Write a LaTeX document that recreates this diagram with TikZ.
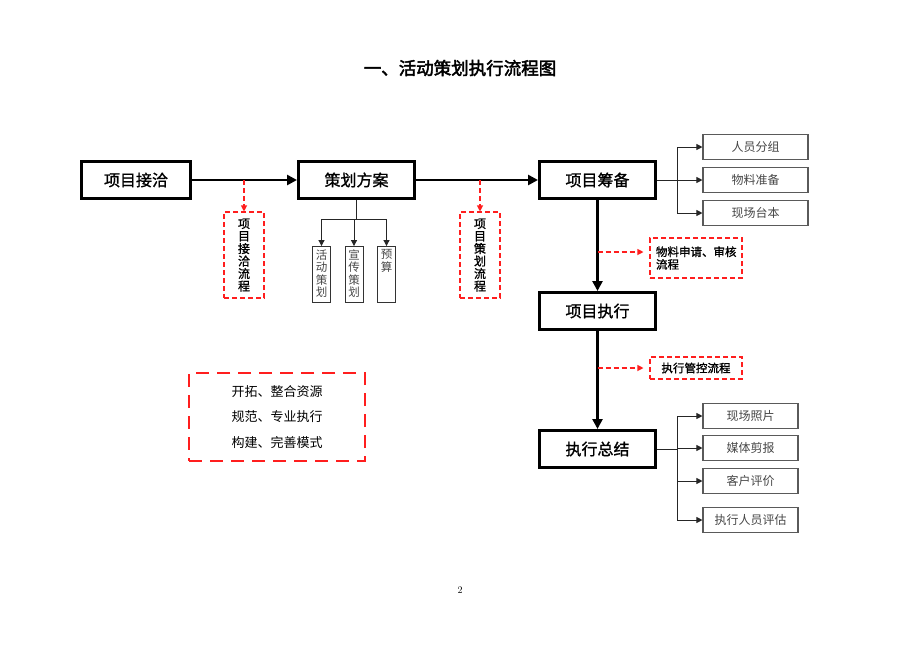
\documentclass[tikz,border=0pt]{standalone}
\usepackage{fontspec}
\usetikzlibrary{arrows.meta}
\newfontfamily\cjk{Noto Sans CJK SC}
\newfontfamily\cjkb{Noto Sans CJK SC}[FakeBold=1.2]
\newfontfamily\cjkbb{Noto Sans CJK SC}[FakeBold=2.5]
\definecolor{flowred}{RGB}{255, 30, 30}
\definecolor{boxgrey}{RGB}{90, 90, 90}
\definecolor{textgrey}{RGB}{70, 70, 70}
\newcommand{\vlabel}[1]{\parbox[c][50pt][t]{12pt}{\centering #1}}

\tikzset{
  mainbox/.style  ={draw=black, line width=3pt, minimum width=116pt, minimum height=37pt,
                    inner sep=0pt, font=\cjkb\fontsize{16}{18}\selectfont},
  mainflow/.style ={line width=2.6pt, -{Triangle[length=10pt,width=10pt]}},
  procbox/.style  ={draw=flowred, dash pattern=on 5pt off 3pt, line width=1.1pt, inner sep=0pt,
                    font=\cjkb\fontsize{11.5}{12.6}\selectfont},
  redflow/.style  ={draw=flowred, dash pattern=on 5pt off 3pt, line width=1.1pt,
                    -{Triangle[length=6pt,width=6pt,fill=flowred]}},
  subbox/.style   ={draw=black!80, line width=0.9pt, inner sep=3pt, text=textgrey,
                    font=\cjk\fontsize{11.5}{12.5}\selectfont},
  sidebox/.style  ={draw=boxgrey, line width=1.1pt, minimum height=25pt, inner sep=0pt,
                    text=textgrey, font=\cjk\fontsize{12}{14}\selectfont},
  subflow/.style  ={draw=black!85, line width=1pt, -{Triangle[length=6pt,width=6pt]}},
  subline/.style  ={draw=black!85, line width=1pt}
}

\begin{document}
\begin{tikzpicture}[x=1pt,y=-1pt]
\useasboundingbox (0,0) rectangle (920,651);

% title and page number
\node (title) at (460, 68) {\cjkbb\fontsize{17.5}{20}\selectfont 一、活动策划执行流程图};
\node (page)  at (460,590) {\fontsize{10}{12}\selectfont 2};

% main flow
\node[mainbox, minimum width=109pt] (lead) at (136,180) {项目接洽};
\node[mainbox] (plan)    at (356.5,180) {策划方案};
\node[mainbox] (prep)    at (597.5,180) {项目筹备};
\node[mainbox] (run)     at (597.5,311) {项目执行};
\node[mainbox] (summary) at (597.5,449) {执行总结};

\draw[mainflow] (lead.east)   -- (plan.west);
\draw[mainflow] (plan.east)   -- (prep.west);
\draw[mainflow] (prep.south)  -- (run.north);
\draw[mainflow] (run.south)   -- (summary.north);

% process boxes (dashed)
\node[procbox, minimum width=40pt, minimum height=86pt, align=center,
      font=\cjkb\fontsize{12}{12.5}\selectfont] (leadproc) at (244,255)
     {项\\目\\接\\洽\\流\\程};
\node[procbox, minimum width=40pt, minimum height=86pt, align=center,
      font=\cjkb\fontsize{12}{12.5}\selectfont] (planproc) at (480,255)
     {项\\目\\策\\划\\流\\程};
\node[procbox, minimum width=92pt, minimum height=40pt, text width=80pt, align=left] (matproc) at (696,258)
     {物料申请、审核\\流程};
\node[procbox, minimum width=92pt, minimum height=22pt, align=center] (ctrlproc) at (696,368)
     {执行管控流程};

\coordinate (d1) at (leadproc.north |- lead.east);
\coordinate (d2) at (planproc.north |- plan.east);
\coordinate (d3) at (prep.south |- 0,252);
\coordinate (d4) at (run.south  |- ctrlproc.west);
\draw[redflow] (d1) -- (leadproc.north);
\draw[redflow] (d2) -- (planproc.north);
\draw[redflow, shorten >=6pt] (d3) -- (d3 -| matproc.west);
\draw[redflow, shorten >=6pt] (d4) -- (ctrlproc.west);

% plan details
\node[subbox] (act)    at (321.5,274.5) {\vlabel{活\\动\\策\\划}};
\node[subbox] (promo)  at (354.0,274.5) {\vlabel{宣\\传\\策\\划}};
\node[subbox] (budget) at (386.5,274.5) {\vlabel{预\\算}};

\coordinate (pj) at (plan.south |- 0,219);
\draw[subline] (plan.south) -- (pj);
\draw[subflow] (pj) -| (act.north);
\draw[subflow] (pj) -| (promo.north);
\draw[subflow] (pj) -| (budget.north);

% preparation details
\node[sidebox, minimum width=105pt] (staff)  at (755.5,147) {人员分组};
\node[sidebox, minimum width=105pt] (mater)  at (755.5,180) {物料准备};
\node[sidebox, minimum width=105pt] (script) at (755.5,213) {现场台本};

\coordinate (rj) at (677,180);
\draw[subline] (prep.east) -- (rj);
\draw[subflow] (rj) |- (staff.west);
\draw[subflow] (rj) -- (mater.west);
\draw[subflow] (rj) |- (script.west);

% summary details
\node[sidebox, minimum width=95pt] (photo)  at (750.5,416) {现场照片};
\node[sidebox, minimum width=95pt] (media)  at (750.5,448) {媒体剪报};
\node[sidebox, minimum width=95pt] (client) at (750.5,481) {客户评价};
\node[sidebox, minimum width=95pt] (review) at (750.5,520) {执行人员评估};

\coordinate (sj) at (677,449);
\draw[subline] (summary.east) -- (sj);
\draw[subflow] (sj) |- (photo.west);
\draw[subflow] (sj) |- (media.west);
\draw[subflow] (sj) |- (client.west);
\draw[subflow] (sj) |- (review.west);

% mission statement
\node[draw=flowred, line width=2.6pt, dash pattern=on 13pt off 8pt, minimum width=176pt,
      minimum height=88pt, align=center, font=\cjk\fontsize{13}{25.5}\selectfont] (motto) at (277,417)
     {开拓、整合资源\\规范、专业执行\\构建、完善模式};
\end{tikzpicture}
\end{document}
